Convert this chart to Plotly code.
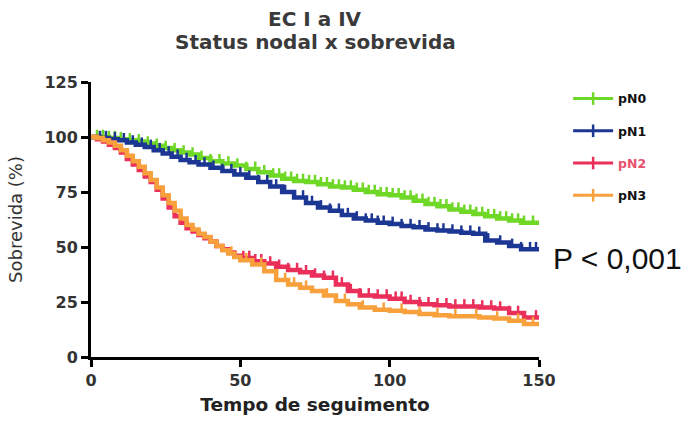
import plotly.graph_objects as go
import numpy as np

# ---- data ----
t_n0 = [0,3,6,9,12,15,18,21,24,27,30,33,36,40,44,48,52,56,60,64,68,72,76,80,84,88,92,96,100,104,108,112,116,120,124,128,132,136,140,144,150]
s_n0 = [100,100,99.5,99,98.5,98,97,96,95,94,93,92,90.5,89,88,87,85.5,84,82.5,81,80,79.5,78.5,77.5,77,76,75,74,73.5,72.5,71,69.5,68.5,67,66,65,64,63,62,61,61]

t_n1 = [0,3,6,9,12,15,18,21,24,27,30,33,36,40,44,48,52,56,60,64,68,72,76,80,84,88,92,96,100,104,108,112,116,120,124,128,132,136,140,144,150]
s_n1 = [100,99.5,99,98.5,97.5,96.5,95.5,94,92.5,91,89.5,88.5,87.5,86,84.5,83,81.5,79.5,77.5,75,72.5,70,68,66.5,64.5,63,62,61,60.5,59.5,59,58,57.5,57,56.5,56,53,52,50.5,49,49]

t_n2 = [0,2,4,6,8,10,12,14,16,18,20,22,24,26,28,30,32,34,36,38,40,42,44,46,48,50,54,58,62,66,70,74,78,82,86,90,95,100,105,110,115,120,125,130,135,140,145,150]
s_n2 = [100,99,98,96.5,95,93,90,87.5,85,82,79.5,76,72,68,64,61,58.5,57,55.5,54,52.5,50.5,49,47.5,46,45,43.5,42.5,41,39.5,38.5,37,36,33,30,28,27.5,26.5,25,24,23.5,23,23,22.5,22,20,18,18]

t_n3 = t_n2
s_n3 = [100,99.5,98.5,97.5,96,94,91.5,89,86.5,83.5,80.5,77,73.5,70,66.5,63,60,58,56,54.5,52.5,50.5,48.5,47,45.5,44,42,39,35,33,31.5,30,28,25.5,24,22.5,21.5,21,20.5,19.5,19,18.5,18.5,18,17.5,16.5,15,15]

cens_n0 = [2,4,6,8,10,13,16,19,22,25,28,31,34,37,40,43,46,49,52,55,58,61,63,65,67,69,71,73,75,77,79,81,83,85,87,89,91,93,95,97,99,101,103,105,107,109,111,113,115,117,119,121,123,125,127,129,131,133,135,137,139,141,143,145,148]
cens_n1 = [3,5,8,11,14,17,20,23,26,29,32,35,38,41,44,47,50,53,56,59,62,65,68,71,74,77,80,83,86,89,92,94,96,98,101,104,107,110,113,116,118,121,124,127,130,133,137,141,144,147,149]
cens_n2 = [51,53,55,57,60,63,66,69,72,75,78,81,84,87,90,93,96,99,102,104,107,110,113,116,119,122,125,128,131,134,137,140,143,149]
cens_n3 = [47,52,57,62,65,68,72,79,85,91,98,104,110,116,122,129,136,143,148]

series = [
    ("pN0", t_n0, s_n0, cens_n0, "#6fd827"),
    ("pN1", t_n1, s_n1, cens_n1, "#1c3694"),
    ("pN2", t_n2, s_n2, cens_n2, "#ea2f5a"),
    ("pN3", t_n3, s_n3, cens_n3, "#f7a03c"),
]

def step_val(ts, ss, x):
    idx = np.searchsorted(ts, x, side="right") - 1
    return ss[max(idx, 0)]

TICKFONT = "DejaVu Sans"
fig = go.Figure()
for name, ts, ss, cens, col in series:
    fig.add_trace(go.Scatter(x=ts, y=ss, mode="lines", line=dict(color=col, width=4.5, shape="hv"),
                             showlegend=False, legendgroup=name))
    cy = [step_val(ts, ss, c) + 1.4 for c in cens]
    fig.add_trace(go.Scatter(x=cens, y=cy, mode="markers",
                             marker=dict(symbol="line-ns", size=6, line=dict(color=col, width=2.5)),
                             showlegend=False, legendgroup=name))
    label = "<b>%s</b>" % name if name != "pN2" else "<span style='color:#e8506e'><b>pN2</b></span>"
    fig.add_trace(go.Scatter(x=[None], y=[None], mode="lines+markers", name=label, legendgroup=name,
                             line=dict(color=col, width=3),
                             marker=dict(symbol="line-ns", size=9, line=dict(color=col, width=2.5))))

axis_common = dict(showgrid=False, zeroline=False, showline=True, linecolor="black", linewidth=3,
                   ticks="outside", tickcolor="black", tickwidth=3, ticklen=7,
                   tickfont=dict(family=TICKFONT, size=16, color="#333", weight="bold"))

fig.update_xaxes(range=[0, 150], tickvals=[0, 50, 100, 150], **axis_common,
                 title=dict(text="<b>Tempo de seguimento</b>",
                            font=dict(family=TICKFONT, size=18.5, color="#222"), standoff=9))
fig.update_yaxes(range=[0, 125], tickvals=[0, 25, 50, 75, 100, 125], **axis_common,
                 title=dict(text="Sobrevida (%)", font=dict(family=TICKFONT, size=18, color="#333"), standoff=18))

fig.add_annotation(text="<b>EC I a IV</b>", xref="paper", yref="paper", x=0.5, y=1.0, yshift=63,
                   yanchor="middle", showarrow=False, font=dict(family=TICKFONT, size=20, color="#3a3a3a"))
fig.add_annotation(text="<b>Status nodal x sobrevida</b>", xref="paper", yref="paper", x=0.5, y=1.0, yshift=40,
                   yanchor="middle", showarrow=False, font=dict(family=TICKFONT, size=20, color="#3a3a3a"))
fig.add_annotation(text="P < 0,001", xref="paper", yref="paper", x=1.0, xshift=12, xanchor="left",
                   y=(357 - 258) / 275, yanchor="middle", showarrow=False,
                   font=dict(family="Liberation Sans, Arial", size=30, color="#111"))

fig.update_layout(
    width=688, height=428,
    margin=dict(l=91, r=149, t=82, b=71),
    paper_bgcolor="white", plot_bgcolor="white",
    legend=dict(x=1.065, xanchor="left", xref="paper", y=0.993, yanchor="top", yref="paper",
                traceorder="grouped", tracegroupgap=13, itemwidth=40,
                font=dict(family=TICKFONT, size=12.5, color="#111"),
                bgcolor="rgba(0,0,0,0)"),
)

fig.write_html("out.html")
